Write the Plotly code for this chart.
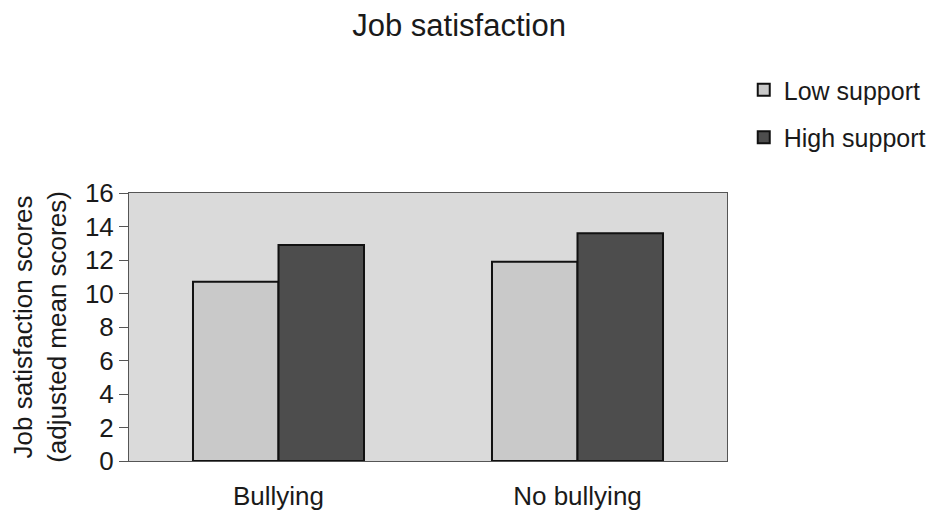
import plotly.graph_objects as go

categories = ["Bullying", "No bullying"]
low_support = [10.7, 11.9]
high_support = [12.9, 13.6]
series_names = ["Low support", "High support"]
y_ticks = [0, 2, 4, 6, 8, 10, 12, 14, 16]

FONT = "Liberation Sans, Arial, Helvetica, sans-serif"
TXT = "#1a1a1a"

fig = go.Figure()
fig.add_trace(go.Bar(
    x=categories, y=low_support, name=series_names[0], legendgroup="a",
    marker=dict(color="#c9c9c9", line=dict(color="#111111", width=2)),
))
fig.add_trace(go.Bar(
    x=categories, y=high_support, name=series_names[1], legendgroup="b",
    marker=dict(color="#4d4d4d", line=dict(color="#111111", width=2)),
))

fig.update_layout(
    width=933, height=511,
    margin=dict(l=129, r=206, t=193, b=50, autoexpand=False),
    paper_bgcolor="white",
    plot_bgcolor="#dadada",
    barmode="group",
    bargap=0.428,
    bargroupgap=0,
    font=dict(family=FONT, size=25, color=TXT),
    title=dict(text="Job satisfaction", x=0.552, xref="paper", xanchor="center",
               y=1 - 25/511, yref="container", yanchor="middle",
               font=dict(family=FONT, size=31, color=TXT)),
    showlegend=True,
    legend=dict(x=1.028, y=1.47, xanchor="left", yanchor="top",
                font=dict(family=FONT, size=25, color=TXT),
                tracegroupgap=12, bgcolor="rgba(0,0,0,0)"),
    xaxis=dict(
        showgrid=False, showline=True, linecolor="#555555", linewidth=1,
        mirror=True, ticks="", ticklabelstandoff=12,
        tickfont=dict(family=FONT, size=26, color=TXT),
    ),
    yaxis=dict(
        range=[0, 16], tickvals=y_ticks, showgrid=False,
        showline=True, linecolor="#555555", linewidth=1, mirror=True,
        ticks="outside", ticklen=9, tickcolor="#555555",
        tickfont=dict(family=FONT, size=26, color=TXT),
        zeroline=False,
        title=dict(text="Job satisfaction scores<br>(adjusted mean scores)",
                   font=dict(family=FONT, size=26, color=TXT), standoff=10),
    ),
)

fig.write_html("out.html")
